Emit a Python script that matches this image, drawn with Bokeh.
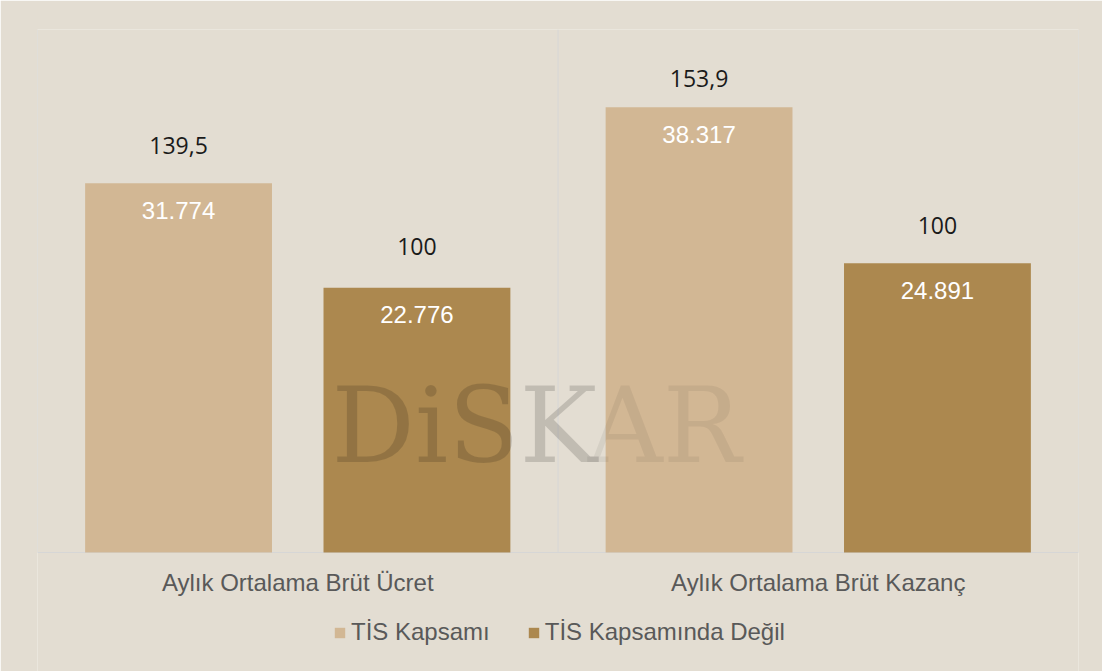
from bokeh.plotting import figure
from bokeh.models import (Range1d, ColumnDataSource, Legend, LegendItem)
from bokeh.core.properties import value
from bokeh.embed import file_html
from bokeh.resources import INLINE

# ---- data ----
categories = ["Aylık Ortalama Brüt Ücret", "Aylık Ortalama Brüt Kazanç"]
series = ["TİS Kapsamı", "TİS Kapsamında Değil"]
tis_values = [31774, 38317]
non_tis_values = [22776, 24891]
tis_index = [139.5, 153.9]
non_tis_index = [100, 100]

# ---- styles ----
BG = "#E3DDD2"
LIGHT = "#D2B794"
DARK = "#AC884F"
GRID = "#D6D6D6"
TXT = "#595959"
SANS = "Liberation Sans"
YMAX = 45000
U = YMAX / 523          # data units per pixel (523 px from 0 to YMAX)
YMIN = -119 * U         # room below the baseline for labels and legend

OFF = 0.229
W = 0.359

def tr_thousands(v):
    return f"{v:,}".replace(",", ".")

def tr_decimal(v):
    return f"{v:g}".replace(".", ",")

centers = [i + 0.5 for i in range(len(categories))]

def make_src(vals, idx, off, gaps):
    return ColumnDataSource(dict(
        x=[c + off for c in centers], val=vals,
        vlabel=[tr_thousands(v) for v in vals],
        vy=[v - 27 * U for v in vals],
        ilabel=[tr_decimal(v) for v in idx],
        iy=[v + g * U for v, g in zip(vals, gaps)],
    ))

src_tis = make_src(tis_values, tis_index, -OFF, [38, 29])
src_non = make_src(non_tis_values, non_tis_index, OFF, [41, 38])

p = figure(x_range=Range1d(0, len(categories)),
           y_range=Range1d(YMIN, YMAX),
           width=1102, height=671,
           output_backend="svg", toolbar_location=None,
           min_border_left=37, min_border_right=24, min_border_top=29,
           min_border_bottom=0,
           background_fill_color=BG, border_fill_color=BG,
           outline_line_color=None)
p.xaxis.visible = False
p.yaxis.visible = False
p.xgrid.grid_line_color = None
p.ygrid.grid_line_color = None

# category separators and baseline
n = len(categories)
p.segment(x0=list(range(n + 1)), y0=[0] * (n + 1), x1=list(range(n + 1)),
          y1=[YMAX] * (n + 1), line_color=GRID, line_width=1)
p.segment(x0=[0], y0=[0], x1=[n], y1=[0], line_color=GRID, line_width=1)

r1 = p.vbar(x="x", top="val", width=W, source=src_tis, fill_color=LIGHT, line_color=None)
r2 = p.vbar(x="x", top="val", width=W, source=src_non, fill_color=DARK, line_color=None)

# watermark
wm_y = 127 * U
p.text(x=[0.565], y=[wm_y], text=["DiSK"], text_font=value("DejaVu Serif"),
       text_font_size="104px", text_color="rgba(0,0,0,0.15)",
       text_align="left", text_baseline="middle")
p.text(x=[1.057], y=[wm_y], text=["AR"], text_font=value("DejaVu Serif"),
       text_font_size="104px", text_color="rgba(0,0,0,0.06)",
       text_align="left", text_baseline="middle")

for src in (src_tis, src_non):
    p.text(x="x", y="vy", text="vlabel", source=src,
           text_color="white", text_font=value(SANS), text_font_size="24px",
           text_align="center", text_baseline="middle")
    p.text(x="x", y="iy", text="ilabel", source=src,
           text_color="#1A1A1A", text_font=value("Open Sans"), text_font_size="23px",
           text_align="center", text_baseline="middle")

# category labels (axis)
p.text(x=centers, y=[-30 * U] * n, text=categories, text_color=TXT,
       text_font=value(SANS), text_font_size="24px",
       text_align="center", text_baseline="middle")

legend = Legend(items=[LegendItem(label=series[0], renderers=[r1]),
                       LegendItem(label=series[1], renderers=[r2])],
                orientation="horizontal", location=(296, 25),
                glyph_width=13, glyph_height=13, label_standoff=5, spacing=37,
                label_text_font=SANS, label_text_font_size="24px",
                label_text_color=TXT, background_fill_alpha=0,
                border_line_color=None, padding=4, margin=0)
p.add_layout(legend)

open("out.html", "w").write(file_html(p, INLINE))
